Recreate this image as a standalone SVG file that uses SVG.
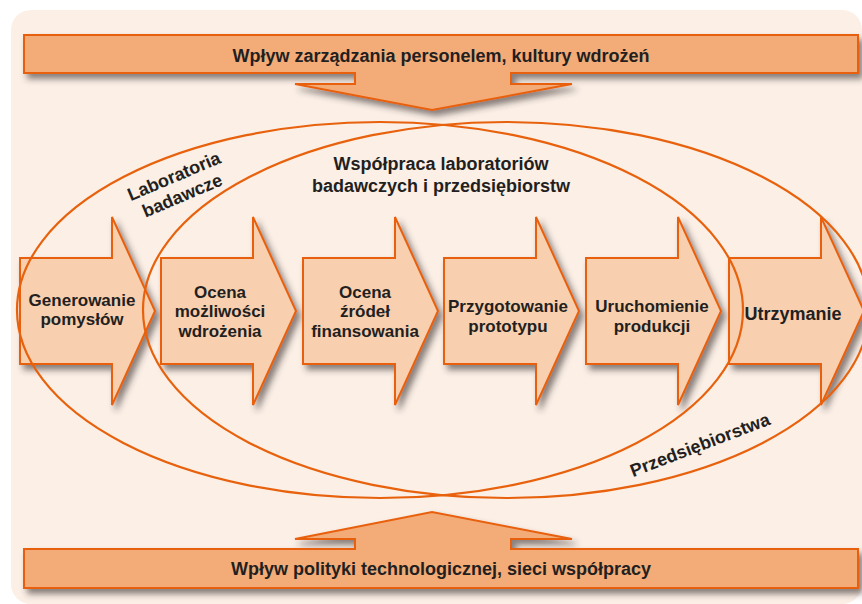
<svg xmlns="http://www.w3.org/2000/svg" width="862" height="604" viewBox="0 0 862 604">
  <defs>
    <filter id="shadow" x="-20%" y="-20%" width="150%" height="160%">
      <feDropShadow dx="4" dy="5" stdDeviation="3" flood-color="#3a3030" flood-opacity="0.6"/>
    </filter>
    <style>
      .banner { fill: #F3AC78; stroke: #E8610C; stroke-width: 2; stroke-linejoin: miter; }
      .step { fill: #F8CFAF; stroke: #E8610C; stroke-width: 2; stroke-linejoin: miter; }
      .ring { fill: none; stroke: #E8610C; stroke-width: 2.2; }
      text { font-family: "Liberation Sans", Arial, sans-serif; font-weight: bold; font-size: 18px; fill: #231F20; text-anchor: middle; }
      .lbl { font-size: 17px; }
    </style>
  </defs>

  <!-- panel background -->
  <rect x="11" y="10" width="851" height="594" rx="20" ry="20" fill="#FBEFE6"/>

  <!-- top influence banner with downward arrow -->
  <g id="banner-top">
    <path class="banner" filter="url(#shadow)" d="M24,35 H858 V73 H511 V84 H572 L432,110 L295,84 H355 V73 H24 Z"/>
    <text x="441" y="62">Wpływ zarządzania personelem, kultury wdrożeń</text>
  </g>

  <!-- bottom influence banner with upward arrow -->
  <g id="banner-bottom">
    <path class="banner" filter="url(#shadow)" d="M24,588 H858 V549 H511 V539 H572 L432,512 L295,539 H355 V549 H24 Z"/>
    <text x="441" y="575">Wpływ polityki technologicznej, sieci współpracy</text>
  </g>

  <!-- process steps -->
  <g id="step-1">
    <path class="step" filter="url(#shadow)" d="M20,258 H112 V217 L155,311 L112,405 V364 H20 Z"/>
  </g>
  <g id="step-2">
    <path class="step" filter="url(#shadow)" d="M161,258 H253 V217 L296,311 L253,405 V364 H161 Z"/>
  </g>
  <g id="step-3">
    <path class="step" filter="url(#shadow)" d="M303,258 H395 V217 L438,311 L395,405 V364 H303 Z"/>
  </g>
  <g id="step-4">
    <path class="step" filter="url(#shadow)" d="M444,258 H536 V217 L579,311 L536,405 V364 H444 Z"/>
  </g>
  <g id="step-5">
    <path class="step" filter="url(#shadow)" d="M586,258 H678 V217 L721,311 L678,405 V364 H586 Z"/>
  </g>
  <g id="step-6">
    <path class="step" filter="url(#shadow)" d="M729,258 H821 V217 L864,311 L821,405 V364 H729 Z"/>
  </g>

  <!-- overlapping domains: laboratories and enterprises -->
  <g id="domains">
    <ellipse id="domain-labs" class="ring" cx="380" cy="310" rx="363" ry="188"/>
    <ellipse id="domain-enterprises" class="ring" cx="506" cy="310" rx="363" ry="188"/>
  </g>

  <!-- step labels -->
  <g id="step-labels">
    <text class="lbl" x="82" y="305.5">Generowanie</text>
    <text class="lbl" x="82" y="325">pomysłów</text>

    <text class="lbl" x="220" y="297.5">Ocena</text>
    <text class="lbl" x="220" y="317">możliwości</text>
    <text class="lbl" x="220" y="336.5">wdrożenia</text>

    <text class="lbl" x="365" y="297.5">Ocena</text>
    <text class="lbl" x="365" y="317">źródeł</text>
    <text class="lbl" x="365" y="336.5">finansowania</text>

    <text class="lbl" x="508" y="312">Przygotowanie</text>
    <text class="lbl" x="508" y="331.5">prototypu</text>

    <text class="lbl" x="652" y="312">Uruchomienie</text>
    <text class="lbl" x="652" y="331.5">produkcji</text>

    <text x="793" y="320">Utrzymanie</text>
  </g>

  <!-- domain labels -->
  <g id="domain-labels">
    <text x="441" y="170">Współpraca laboratoriów</text>
    <text x="441" y="192">badawczych i przedsiębiorstw</text>
    <g transform="translate(178,185.5) rotate(-23)">
      <text x="0" y="-4">Laboratoria</text>
      <text x="0" y="17">badawcze</text>
    </g>
    <g transform="translate(700,445) rotate(-21)">
      <text x="0" y="6">Przedsiębiorstwa</text>
    </g>
  </g>
</svg>
